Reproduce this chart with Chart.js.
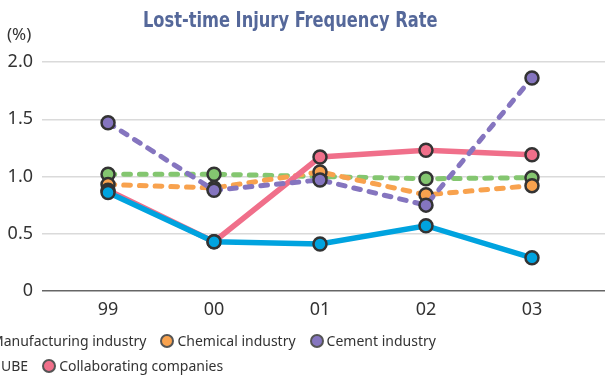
<!DOCTYPE html>
<html>
<head>
<meta charset="utf-8">
<script src="https://cdn.jsdelivr.net/npm/chart.js@4"></script>
<style>
  html, body { margin: 0; padding: 0; background: #fff; overflow: hidden; }
  #wrap { position: relative; width: 605px; height: 375px; }
  #charts { position: absolute; left: 0; top: 0; }
  #titlebox { position: absolute; left: 0; width: 580px; top: 8px; text-align: center; }
  #title {
    display: inline-block; transform: scaleX(0.86);
    font: bold 21px "Liberation Sans Narrow", "DejaVu Sans Condensed", sans-serif;
    color: #55689a;
  }
  #unit { position: absolute; left: 7px; top: 22px; font: 17px "Noto Sans", sans-serif; color: #333; }
  .row { position: absolute; display: flex; align-items: center; white-space: nowrap;
         font: 14px "Noto Sans", sans-serif; color: #333; }
  .item { display: flex; align-items: center; margin-right: 14px; }
  .dot { width: 10px; height: 10px; border-radius: 50%; border: 2px solid #555; margin-right: 3px; }
</style>
</head>
<body>
<div id="wrap">
  <canvas id="charts" width="605" height="375"></canvas>
  <div id="titlebox"><span id="title">Lost-time Injury Frequency Rate</span></div>
  <div id="unit">(%)</div>
  <div class="row" id="row1" style="left:-26px; top:331px;"></div>
  <div class="row" id="row2" style="left:-16px; top:356px;"></div>
</div>
<script>
let years = ['99', '00', '01', '02', '03'];
let yTicks = [0, 0.5, 1.0, 1.5, 2.0];

let manufacturing = [1.02, 1.02, 1.00, 0.98, 0.99];
let chemical = [0.93, 0.90, 1.04, 0.84, 0.92];
let cement = [1.47, 0.88, 0.97, 0.75, 1.86];
let ube = [0.86, 0.43, 0.41, 0.57, 0.29];
let collaborating = [0.88, 0.43, 1.17, 1.23, 1.19];

let series = [
    { label: 'Manufacturing industry', data: manufacturing, color: '#84c670', dashed: true, order: 4, row: 1 },
    { label: 'Chemical industry', data: chemical, color: '#f8a24e', dashed: true, order: 3, row: 1 },
    { label: 'Cement industry', data: cement, color: '#8575bf', dashed: true, order: 1, row: 1 },
    { label: 'UBE', data: ube, color: '#00a3df', dashed: false, order: 0, row: 2 },
    { label: 'Collaborating companies', data: collaborating, color: '#f06f8a', dashed: false, order: 2, row: 2 }
];

// legend rows
series.forEach(s => {
    let item = document.createElement('div');
    item.className = 'item';
    let dot = document.createElement('span');
    dot.className = 'dot';
    dot.style.background = s.color;
    let txt = document.createElement('span');
    txt.textContent = s.label;
    item.appendChild(dot);
    item.appendChild(txt);
    document.getElementById('row' + s.row).appendChild(item);
});

let datasets = series.map(s => ({
    label: s.label,
    data: s.data.map((v, i) => ({ x: i, y: v })),
    borderColor: s.color,
    borderWidth: s.dashed ? 5 : 5.5,
    borderDash: s.dashed ? [6.7, 9] : [],
    borderCapStyle: s.dashed ? 'round' : 'butt',
    pointRadius: 6.5,
    pointBorderWidth: 2.5,
    pointBorderColor: '#333',
    pointBackgroundColor: s.color,
    tension: 0,
    order: s.order
}));

new Chart(document.getElementById('charts'), {
    type: 'line',
    data: { datasets: datasets },
    options: {
        responsive: false,
        animation: false,
        layout: { autoPadding: false, padding: { top: 62, right: 0, bottom: 44, left: 0 } },
        plugins: { legend: { display: false }, title: { display: false }, tooltip: { enabled: false } },
        scales: {
            x: {
                type: 'linear',
                min: -0.623,
                max: 4.689,
                afterBuildTicks: scale => { scale.ticks = years.map((_, i) => ({ value: i })); },
                afterFit: scale => {
                    scale.height = 40;
                    scale.paddingLeft = 0;
                    scale.paddingRight = 0;
                },
                grid: { display: false },
                border: { display: false },
                ticks: {
                    autoSkip: false, maxRotation: 0, padding: 0,
                    color: '#333', font: { family: 'Noto Sans', size: 18 },
                    callback: v => years[v]
                }
            },
            y: {
                min: 0,
                max: 2,
                afterBuildTicks: scale => { scale.ticks = yTicks.map(v => ({ value: v })); },
                afterFit: scale => { scale.width = 42; },
                border: { display: false },
                grid: {
                    drawTicks: false,
                    lineWidth: 1.5,
                    color: c => c.tick && c.tick.value === 0 ? '#666' : '#dadada'
                },
                ticks: {
                    padding: 9,
                    color: '#333', font: { family: 'Noto Sans', size: 18 },
                    callback: v => v === 0 ? '0' : v.toFixed(1)
                }
            }
        }
    }
});
</script>
</body>
</html>
